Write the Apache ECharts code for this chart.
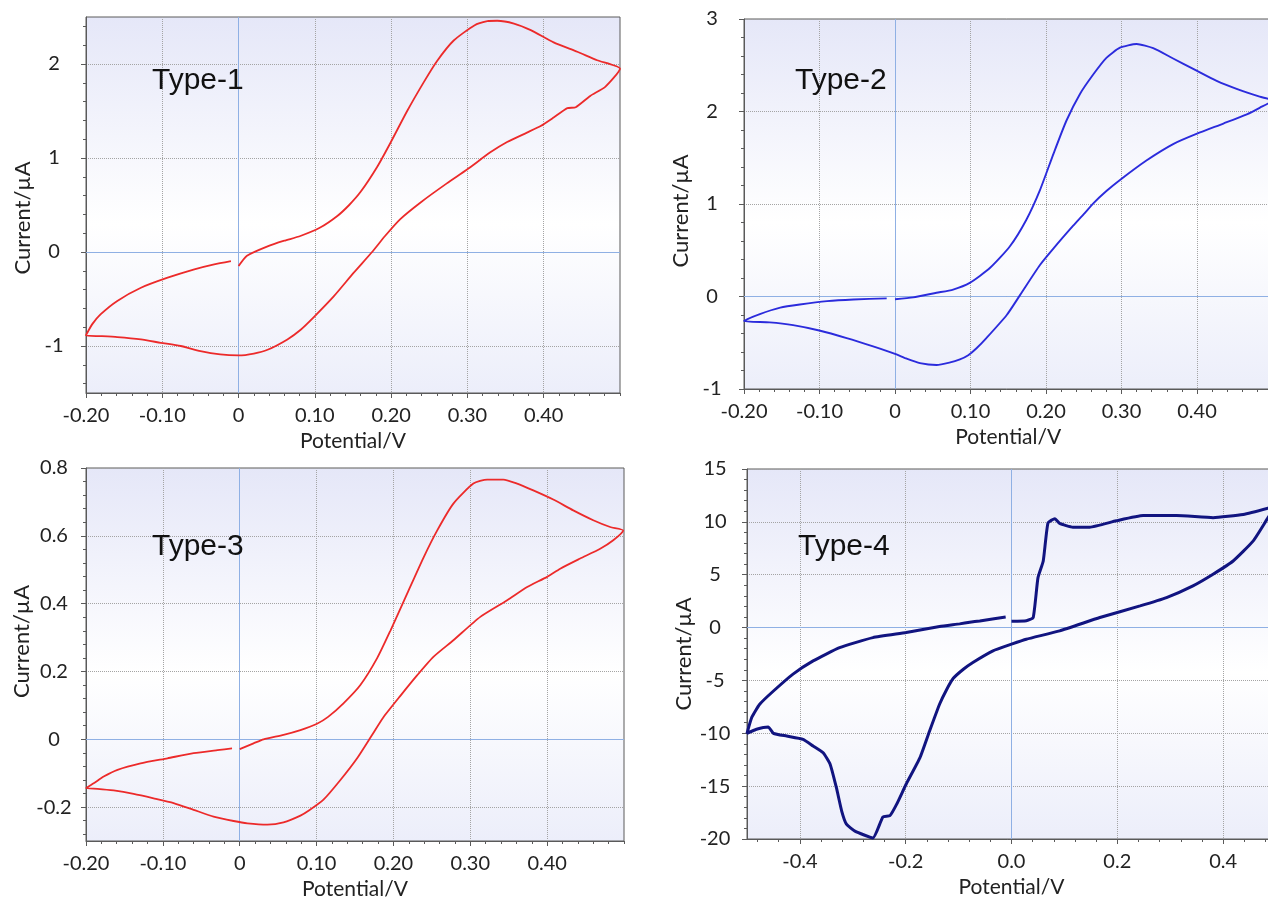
<!DOCTYPE html>
<html>
<head>
<meta charset="utf-8">
<script src="https://cdn.jsdelivr.net/npm/echarts@6/dist/echarts.min.js"></script>
<style>
html,body{margin:0;padding:0;background:#fff;}
#chart{width:1268px;height:897px;}
</style>
</head>
<body>
<div id="chart"></div>
<script>
// ---------- Data (potential in V, current in µA), in scan order ----------
const type1E = [0, 0.011, 0.038, 0.060, 0.081, 0.107, 0.129, 0.145, 0.160, 0.182, 0.199, 0.221, 0.243, 0.260, 0.282, 0.309, 0.326, 0.339, 0.361, 0.383, 0.413, 0.444, 0.470, 0.500,
  0.481, 0.461, 0.442, 0.431, 0.413, 0.396, 0.378, 0.352, 0.330, 0.300, 0.273, 0.239, 0.212, 0.192, 0.175, 0.151, 0.125, 0.099, 0.081, 0.064, 0.038, 0.020, 0.000, -0.024, -0.050, -0.076, -0.102, -0.128, -0.159, -0.181, -0.200,
  -0.192, -0.181, -0.159, -0.128, -0.093, -0.058, -0.032, -0.010];
const type1I = [-0.15, -0.04, 0.06, 0.12, 0.17, 0.26, 0.38, 0.50, 0.64, 0.91, 1.16, 1.50, 1.81, 2.03, 2.25, 2.41, 2.455, 2.46, 2.43, 2.36, 2.23, 2.13, 2.04, 1.95,
  1.76, 1.66, 1.54, 1.53, 1.43, 1.34, 1.27, 1.17, 1.06, 0.88, 0.73, 0.53, 0.35, 0.17, 0.00, -0.22, -0.47, -0.69, -0.83, -0.93, -1.04, -1.08, -1.10, -1.09, -1.055, -1.00, -0.966, -0.93, -0.905, -0.895, -0.888,
  -0.77, -0.664, -0.52, -0.38, -0.273, -0.184, -0.131, -0.096];

const type2E = [0, 0.024, 0.055, 0.077, 0.099, 0.126, 0.152, 0.174, 0.192, 0.210, 0.227, 0.245, 0.263, 0.280, 0.298, 0.320, 0.342, 0.369, 0.395, 0.426, 0.457, 0.483, 0.500,
  0.483, 0.466, 0.435, 0.400, 0.369, 0.333, 0.298, 0.280, 0.263, 0.250, 0.236, 0.210, 0.192, 0.166, 0.148, 0.121, 0.108, 0.097, 0.086, 0.072, 0.055, 0.033, 0.015, 0.000, -0.029, -0.064, -0.099, -0.135, -0.166, -0.200,
  -0.179, -0.152, -0.126, -0.090, -0.055, -0.011];
const type2I = [-0.03, -0.01, 0.04, 0.075, 0.147, 0.31, 0.54, 0.83, 1.15, 1.545, 1.90, 2.19, 2.405, 2.58, 2.69, 2.73, 2.685, 2.57, 2.46, 2.33, 2.23, 2.16, 2.12,
  2.04, 1.97, 1.87, 1.76, 1.65, 1.47, 1.26, 1.14, 1.01, 0.89, 0.765, 0.52, 0.34, 0.02, -0.20, -0.45, -0.56, -0.635, -0.68, -0.715, -0.74, -0.72, -0.67, -0.62, -0.54, -0.45, -0.37, -0.31, -0.28, -0.265,
  -0.19, -0.12, -0.086, -0.05, -0.032, -0.02];

const type3E = [0, 0.018, 0.031, 0.057, 0.079, 0.100, 0.115, 0.135, 0.157, 0.179, 0.196, 0.218, 0.239, 0.257, 0.278, 0.304, 0.322, 0.343, 0.361, 0.382, 0.408, 0.434, 0.460, 0.482, 0.499,
  0.486, 0.469, 0.443, 0.417, 0.400, 0.374, 0.348, 0.313, 0.278, 0.252, 0.231, 0.209, 0.187, 0.172, 0.153, 0.131, 0.109, 0.090, 0.079, 0.057, 0.036, 0.010, -0.008, -0.034, -0.060, -0.086, -0.112, -0.138, -0.164, -0.185, -0.200,
  -0.190, -0.177, -0.159, -0.129, -0.094, -0.060, -0.029, -0.010];
const type3I = [-0.029, -0.012, 0.0, 0.013, 0.027, 0.045, 0.066, 0.106, 0.16, 0.24, 0.32, 0.43, 0.535, 0.616, 0.695, 0.754, 0.766, 0.766, 0.754, 0.734, 0.707, 0.675, 0.646, 0.626, 0.616,
  0.587, 0.562, 0.533, 0.503, 0.479, 0.449, 0.41, 0.361, 0.292, 0.243, 0.189, 0.128, 0.065, 0.012, -0.055, -0.12, -0.178, -0.21, -0.225, -0.245, -0.252, -0.248, -0.241, -0.228, -0.208, -0.188, -0.174, -0.161, -0.151, -0.146, -0.144,
  -0.13, -0.11, -0.09, -0.071, -0.056, -0.041, -0.032, -0.027];

const type4E = [0, 0.028, 0.041, 0.050, 0.060, 0.069, 0.082, 0.091, 0.116, 0.148, 0.198, 0.249, 0.312, 0.381, 0.438, 0.485, 0.500,
  0.485, 0.457, 0.419, 0.381, 0.343, 0.293, 0.243, 0.167, 0.091, 0.028, 0.000, -0.035, -0.073, -0.091, -0.110, -0.123, -0.136, -0.155, -0.173, -0.199, -0.217, -0.230, -0.243, -0.262, -0.296, -0.312, -0.321, -0.331, -0.343, -0.356, -0.375, -0.394, -0.425, -0.450, -0.460, -0.482, -0.500,
  -0.491, -0.476, -0.450, -0.413, -0.375, -0.325, -0.262, -0.199, -0.136, -0.098, -0.079, -0.060, -0.011];
const type4I = [0.6, 0.65, 0.95, 4.7, 6.3, 9.9, 10.3, 9.85, 9.5, 9.5, 10.1, 10.6, 10.6, 10.4, 10.7, 11.3, 11.55,
  10.4, 8.2, 6.3, 5.05, 3.95, 2.84, 2.05, 0.95, -0.31, -1.1, -1.57, -2.2, -3.3, -3.94, -4.8, -5.9, -7.25, -9.8, -12.3, -14.8, -16.7, -17.8, -17.9, -19.9, -19.25, -18.6, -17.36, -15.15, -12.9, -11.84, -11.2, -10.57, -10.26, -10.0, -9.4, -9.62, -10.0,
  -8.5, -7.25, -6.0, -4.4, -3.15, -1.9, -0.95, -0.47, 0.1, 0.35, 0.5, 0.63, 1.0];

// ---------- Tick values and labels ----------
const xTicksA = [-0.2, -0.1, 0, 0.1, 0.2, 0.3, 0.4];
const xLabelsA = ['-0.20', '-0.10', '0', '0.10', '0.20', '0.30', '0.40'];
const xTicks4 = [-0.4, -0.2, 0, 0.2, 0.4];
const xLabels4 = ['-0.4', '-0.2', '0.0', '0.2', '0.4'];
const yTicks1 = [-1, 0, 1, 2];
const yLabels1 = ['-1', '0', '1', '2'];
const yTicks2 = [-1, 0, 1, 2, 3];
const yLabels2 = ['-1', '0', '1', '2', '3'];
const yTicks3 = [-0.2, 0, 0.2, 0.4, 0.6, 0.8];
const yLabels3 = ['-0.2', '0', '0.2', '0.4', '0.6', '0.8'];
const yTicks4 = [-20, -15, -10, -5, 0, 5, 10, 15];
const yLabels4 = ['-20', '-15', '-10', '-5', '0', '5', '10', '15'];
const titles = ['Type-1', 'Type-2', 'Type-3', 'Type-4'];
const axisNameX = 'Potential/V';
const axisNameY = 'Current/µA';

// ---------- Layout / style ----------
const panels = [
  {E: type1E, I: type1I, grid: {left: 86, top: 17, width: 534, height: 376},
   x: {min: -0.2, max: 0.5, ticks: xTicksA, labels: xLabelsA, minor: 0.02},
   y: {min: -1.5, max: 2.5, ticks: yTicks1, labels: yLabels1, minor: 0.2},
   color: '#ec2a2a', width: 1.8, smooth: 0.2, title: {left: 152, top: 66}, yPad: [0, 26, 0, 0]},
  {E: type2E, I: type2I, grid: {left: 744, top: 19, width: 528.5, height: 370},
   x: {min: -0.2, max: 0.5, ticks: xTicksA, labels: xLabelsA, minor: 0.02},
   y: {min: -1, max: 3, ticks: yTicks2, labels: yLabels2, minor: 0.2},
   color: '#2b2bdc', width: 1.9, smooth: 0.2, title: {left: 795, top: 66}, yPad: [0, 14, 0, 0]},
  {E: type3E, I: type3I, grid: {left: 86, top: 468, width: 538, height: 373},
   x: {min: -0.2, max: 0.5, ticks: xTicksA, labels: xLabelsA, minor: 0.02},
   y: {min: -0.3, max: 0.8, ticks: yTicks3, labels: yLabels3, minor: 0.04},
   color: '#ec2a2a', width: 1.8, smooth: 0.2, title: {left: 152, top: 532}, yPad: [0, 0, 0, 26]},
  {E: type4E, I: type4I, grid: {left: 747, top: 469, width: 529, height: 370},
   x: {min: -0.5, max: 0.5, ticks: xTicks4, labels: xLabels4, minor: 0.04},
   y: {min: -20, max: 15, ticks: yTicks4, labels: yLabels4, minor: 1},
   color: '#111480', width: 3, smooth: 0.15, title: {left: 798, top: 532}, yPad: [0, 0, 0, 0]}
];

const FONT = 'Lato, "Open Sans", sans-serif';
const AXIS_COLOR = '#5a5a5a';
const GRID_COLOR = '#a4a4a4';
const ZERO_COLOR = '#8fb0e4';

function minorValues(a) {
  const out = [];
  const k0 = Math.ceil(a.min / a.minor - 1e-6), k1 = Math.floor(a.max / a.minor + 1e-6);
  for (let k = k0; k <= k1; k++) {
    const v = +(k * a.minor).toFixed(6);
    if (a.ticks.some(t => Math.abs(t - v) < a.minor / 4)) continue;
    out.push(v);
  }
  return out;
}
function labelFor(a) {
  return function (v) {
    for (let i = 0; i < a.ticks.length; i++) if (Math.abs(a.ticks[i] - v) < 1e-6) return a.labels[i];
    return '';
  };
}

const option = {
  animation: false,
  backgroundColor: '#ffffff',
  title: [], grid: [], xAxis: [], yAxis: [], series: []
};

panels.forEach((p, i) => {
  option.grid.push(Object.assign({
    show: true, borderColor: AXIS_COLOR, borderWidth: 1,
    containLabel: false, outerBoundsMode: 'none',
    backgroundColor: {type: 'linear', x: 0, y: 0, x2: 0, y2: 1, colorStops: [
      {offset: 0, color: '#e5e7f8'}, {offset: 0.55, color: '#ffffff'}, {offset: 1, color: '#eceefa'}]}
  }, p.grid));
  option.title.push({text: titles[i], left: p.title.left, top: p.title.top, padding: 0,
    textStyle: {fontFamily: '"Liberation Sans", Arial, sans-serif', fontSize: 30, fontWeight: 'normal', color: '#111'}});

  option.xAxis.push({
    type: 'value', gridIndex: i, position: 'bottom', min: p.x.min, max: p.x.max,
    name: axisNameX, nameLocation: 'middle', nameGap: 38,
    nameTextStyle: {fontFamily: FONT, fontSize: 21, color: '#222'},
    axisLine: {show: true, onZero: false, lineStyle: {color: AXIS_COLOR, width: 1}},
    axisTick: {show: true, length: 5, customValues: p.x.ticks, lineStyle: {color: AXIS_COLOR}},
    axisLabel: {customValues: p.x.ticks, formatter: labelFor(p.x), margin: 13,
      fontFamily: FONT, fontSize: 20, color: '#222'},
    splitLine: {show: true, lineStyle: {type: 'dotted', color: GRID_COLOR, width: 1}}
  });
  option.xAxis.push({
    type: 'value', gridIndex: i, position: 'bottom', min: p.x.min, max: p.x.max,
    axisLine: {show: false, onZero: false},
    axisTick: {show: true, length: 3, customValues: minorValues(p.x), lineStyle: {color: AXIS_COLOR}},
    axisLabel: {show: false}, splitLine: {show: false}
  });
  option.yAxis.push({
    type: 'value', gridIndex: i, position: 'left', min: p.y.min, max: p.y.max,
    name: axisNameY, nameLocation: 'middle', nameGap: 52,
    nameTextStyle: {fontFamily: FONT, fontSize: 22, color: '#222', padding: p.yPad},
    axisLine: {show: true, onZero: false, lineStyle: {color: AXIS_COLOR, width: 1}},
    axisTick: {show: true, length: 5, customValues: p.y.ticks, lineStyle: {color: AXIS_COLOR}},
    axisLabel: {customValues: p.y.ticks, formatter: labelFor(p.y), margin: 32, align: 'center',
      fontFamily: FONT, fontSize: 20, color: '#222'},
    splitLine: {show: true, lineStyle: {type: 'dotted', color: GRID_COLOR, width: 1}}
  });
  option.yAxis.push({
    type: 'value', gridIndex: i, position: 'left', min: p.y.min, max: p.y.max,
    axisLine: {show: false, onZero: false},
    axisTick: {show: true, length: 3, customValues: minorValues(p.y), lineStyle: {color: AXIS_COLOR}},
    axisLabel: {show: false}, splitLine: {show: false}
  });

  option.series.push({
    type: 'line', xAxisIndex: 2 * i, yAxisIndex: 2 * i,
    data: p.E.map((e, k) => [e, p.I[k]]),
    showSymbol: false, symbol: 'none', smooth: p.smooth,
    lineStyle: {color: p.color, width: p.width}, z: 5,
    markLine: {silent: true, symbol: 'none', label: {show: false}, animation: false, z: 3,
      lineStyle: {color: ZERO_COLOR, type: 'solid', width: 1},
      data: [{xAxis: 0}, {yAxis: 0}]}
  });
});

const chart = echarts.init(document.getElementById('chart'), null, {renderer: 'canvas'});
chart.setOption(option);
</script>
</body>
</html>
